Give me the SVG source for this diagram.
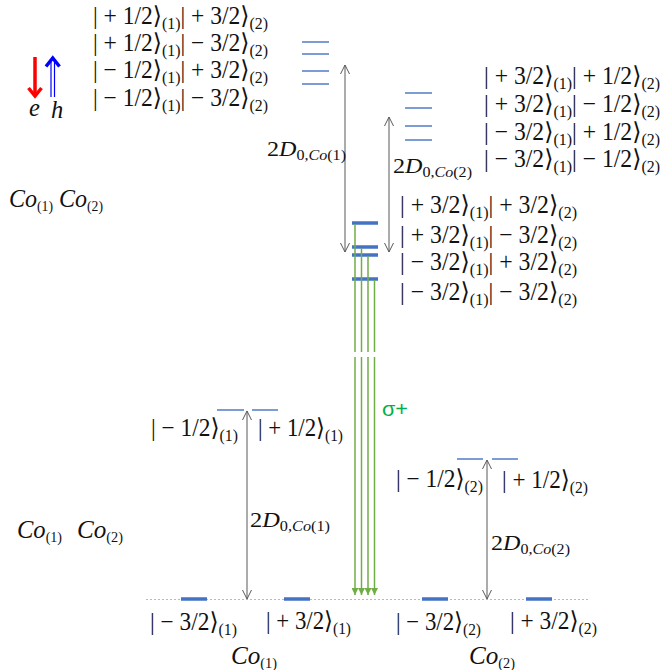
<svg xmlns="http://www.w3.org/2000/svg" width="663" height="670" viewBox="0 0 663 670">
<style>
.k{font-family:"Liberation Serif","DejaVu Serif",serif;font-size:24.5px;fill:#111}
.s{font-size:16.5px}
.i{font-style:italic}
.lab{font-family:"Liberation Serif","DejaVu Serif",serif;font-size:21px;fill:#111}
.ls{font-size:14px}
.thin{stroke:#4472c4;stroke-width:1.4;fill:none}
.thick{stroke:#4472c4;stroke-width:3.5;fill:none}
.gl{stroke:#70ad47;stroke-width:1.5;fill:none}
.ga{stroke:#595959;stroke-width:1;fill:none}
</style>
<defs>
<marker id="ah" viewBox="0 0 10 10" refX="10" refY="5" markerWidth="10" markerHeight="10" markerUnits="userSpaceOnUse" orient="auto-start-reverse">
<path d="M1,0.5 L10,5 L1,9.5" fill="none" stroke="#595959" stroke-width="1"/>
</marker>
<marker id="gh" viewBox="0 0 10 10" refX="10" refY="5" markerWidth="7" markerHeight="7" markerUnits="userSpaceOnUse" orient="auto">
<path d="M0,0 L10,5 L0,10 Z" fill="#70ad47"/>
</marker>
</defs>
<rect width="663" height="670" fill="#fff"/>

<g id="legend-eh">
<line x1="35" y1="57" x2="35" y2="94" stroke="#ff0000" stroke-width="3.5"/>
<polyline points="28.5,88 35,96 41.5,88" fill="none" stroke="#ff0000" stroke-width="3.5"/>
<line x1="51" y1="61" x2="51" y2="97" stroke="#0000ff" stroke-width="1.2"/>
<line x1="54.5" y1="61" x2="54.5" y2="97" stroke="#0000ff" stroke-width="1.2"/>
<polyline points="46,66.5 52.75,58 59.5,66.5" fill="none" stroke="#0000ff" stroke-width="3.5"/>
<text class="k i" x="29" y="116" font-size="20">e</text>
<text class="k i" x="51" y="118" font-size="20">h</text>
</g>

<g id="co-top-left">
<text class="k" x="9" y="207" font-size="19" textLength="94" lengthAdjust="spacingAndGlyphs"><tspan class="i">Co</tspan><tspan font-size="14" dy="4">(1)</tspan><tspan dy="-4"> </tspan><tspan class="i">Co</tspan><tspan font-size="14" dy="4">(2)</tspan></text>
</g>
<g id="co-bottom-left">
<text class="k" x="17" y="538" font-size="19" textLength="45" lengthAdjust="spacingAndGlyphs"><tspan class="i">Co</tspan><tspan font-size="14" dy="4">(1)</tspan></text>
<text class="k" x="77" y="538" font-size="19" textLength="46" lengthAdjust="spacingAndGlyphs"><tspan class="i">Co</tspan><tspan font-size="14" dy="4">(2)</tspan></text>
</g>

<g id="states-12-32">
<line class="thin" x1="302" y1="42" x2="329" y2="42"/>
<line class="thin" x1="302" y1="54" x2="329" y2="54"/>
<line class="thin" x1="302" y1="71" x2="329" y2="71"/>
<line class="thin" x1="302" y1="84" x2="329" y2="84"/>
<text class="k" x="93" y="24" textLength="175" lengthAdjust="spacingAndGlyphs">| + 1/2⟩<tspan class="s" dy="5">(1)</tspan><tspan dy="-5">| + 3/2⟩</tspan><tspan class="s" dy="5">(2)</tspan></text>
<text class="k" x="93" y="51" textLength="175" lengthAdjust="spacingAndGlyphs">| + 1/2⟩<tspan class="s" dy="5">(1)</tspan><tspan dy="-5">| − 3/2⟩</tspan><tspan class="s" dy="5">(2)</tspan></text>
<text class="k" x="93" y="78" textLength="175" lengthAdjust="spacingAndGlyphs">| − 1/2⟩<tspan class="s" dy="5">(1)</tspan><tspan dy="-5">| + 3/2⟩</tspan><tspan class="s" dy="5">(2)</tspan></text>
<text class="k" x="93" y="106" textLength="175" lengthAdjust="spacingAndGlyphs">| − 1/2⟩<tspan class="s" dy="5">(1)</tspan><tspan dy="-5">| − 3/2⟩</tspan><tspan class="s" dy="5">(2)</tspan></text>
</g>

<g id="states-32-12">
<line class="thin" x1="405" y1="93" x2="432" y2="93"/>
<line class="thin" x1="405" y1="108" x2="432" y2="108"/>
<line class="thin" x1="405" y1="126" x2="432" y2="126"/>
<line class="thin" x1="405" y1="140" x2="432" y2="140"/>
<text class="k" x="484" y="84" textLength="176" lengthAdjust="spacingAndGlyphs">| + 3/2⟩<tspan class="s" dy="5">(1)</tspan><tspan dy="-5">| + 1/2⟩</tspan><tspan class="s" dy="5">(2)</tspan></text>
<text class="k" x="484" y="112" textLength="176" lengthAdjust="spacingAndGlyphs">| + 3/2⟩<tspan class="s" dy="5">(1)</tspan><tspan dy="-5">| − 1/2⟩</tspan><tspan class="s" dy="5">(2)</tspan></text>
<text class="k" x="484" y="140" textLength="176" lengthAdjust="spacingAndGlyphs">| − 3/2⟩<tspan class="s" dy="5">(1)</tspan><tspan dy="-5">| + 1/2⟩</tspan><tspan class="s" dy="5">(2)</tspan></text>
<text class="k" x="484" y="167" textLength="176" lengthAdjust="spacingAndGlyphs">| − 3/2⟩<tspan class="s" dy="5">(1)</tspan><tspan dy="-5">| − 1/2⟩</tspan><tspan class="s" dy="5">(2)</tspan></text>
</g>

<g id="states-32-32">
<line class="thick" x1="352" y1="223" x2="378" y2="223"/>
<line class="thick" x1="352" y1="247" x2="378" y2="247"/>
<line class="thick" x1="352" y1="255" x2="378" y2="255"/>
<line class="thick" x1="352" y1="279" x2="378" y2="279"/>
<text class="k" x="400" y="213" textLength="177" lengthAdjust="spacingAndGlyphs">| + 3/2⟩<tspan class="s" dy="5">(1)</tspan><tspan dy="-5">| + 3/2⟩</tspan><tspan class="s" dy="5">(2)</tspan></text>
<text class="k" x="400" y="243" textLength="177" lengthAdjust="spacingAndGlyphs">| + 3/2⟩<tspan class="s" dy="5">(1)</tspan><tspan dy="-5">| − 3/2⟩</tspan><tspan class="s" dy="5">(2)</tspan></text>
<text class="k" x="400" y="270" textLength="177" lengthAdjust="spacingAndGlyphs">| − 3/2⟩<tspan class="s" dy="5">(1)</tspan><tspan dy="-5">| + 3/2⟩</tspan><tspan class="s" dy="5">(2)</tspan></text>
<text class="k" x="400" y="300" textLength="177" lengthAdjust="spacingAndGlyphs">| − 3/2⟩<tspan class="s" dy="5">(1)</tspan><tspan dy="-5">| − 3/2⟩</tspan><tspan class="s" dy="5">(2)</tspan></text>
</g>

<g id="co1-excited">
<line class="thin" x1="217" y1="410" x2="244" y2="410"/>
<line class="thin" x1="252" y1="410" x2="278" y2="410"/>
<text class="k" x="151" y="436" textLength="87" lengthAdjust="spacingAndGlyphs">| − 1/2⟩<tspan class="s" dy="5">(1)</tspan></text>
<text class="k" x="258" y="436" textLength="85" lengthAdjust="spacingAndGlyphs">| + 1/2⟩<tspan class="s" dy="5">(1)</tspan></text>
</g>

<g id="co2-excited">
<line class="thin" x1="457" y1="459" x2="483" y2="459"/>
<line class="thin" x1="492" y1="459" x2="518" y2="459"/>
<text class="k" x="396" y="487" textLength="87" lengthAdjust="spacingAndGlyphs">| − 1/2⟩<tspan class="s" dy="5">(2)</tspan></text>
<text class="k" x="502" y="488" textLength="86" lengthAdjust="spacingAndGlyphs">| + 1/2⟩<tspan class="s" dy="5">(2)</tspan></text>
</g>

<g id="ground">
<line x1="146" y1="599.5" x2="590" y2="599.5" stroke="#8faadc" stroke-width="0.8" stroke-dasharray="2,2"/>
<line class="thick" x1="181" y1="599" x2="207" y2="599"/>
<line class="thick" x1="284" y1="599" x2="310" y2="599"/>
<line class="thick" x1="422" y1="599" x2="448" y2="599"/>
<line class="thick" x1="526" y1="599" x2="552" y2="599"/>
<text class="k" x="150" y="630" textLength="87" lengthAdjust="spacingAndGlyphs">| − 3/2⟩<tspan class="s" dy="5">(1)</tspan></text>
<text class="k" x="266" y="629" textLength="85" lengthAdjust="spacingAndGlyphs">| + 3/2⟩<tspan class="s" dy="5">(1)</tspan></text>
<text class="k" x="396" y="630" textLength="85" lengthAdjust="spacingAndGlyphs">| − 3/2⟩<tspan class="s" dy="5">(2)</tspan></text>
<text class="k" x="510" y="629" textLength="87" lengthAdjust="spacingAndGlyphs">| + 3/2⟩<tspan class="s" dy="5">(2)</tspan></text>
<text class="k" x="231" y="664" font-size="19" textLength="46" lengthAdjust="spacingAndGlyphs"><tspan class="i">Co</tspan><tspan font-size="14" dy="4">(1)</tspan></text>
<text class="k" x="469" y="664" font-size="19" textLength="46" lengthAdjust="spacingAndGlyphs"><tspan class="i">Co</tspan><tspan font-size="14" dy="4">(2)</tspan></text>
</g>

<g id="connectors">
<line class="ga" x1="345" y1="65" x2="345" y2="252" marker-start="url(#ah)" marker-end="url(#ah)"/>
<line class="ga" x1="389" y1="117" x2="389" y2="252" marker-start="url(#ah)" marker-end="url(#ah)"/>
<line class="ga" x1="247" y1="411" x2="247" y2="599" marker-start="url(#ah)" marker-end="url(#ah)"/>
<line class="ga" x1="487" y1="460" x2="487" y2="599" marker-start="url(#ah)" marker-end="url(#ah)"/>
<line class="gl" x1="355" y1="224" x2="355" y2="352"/>
<line class="gl" x1="361.5" y1="248" x2="361.5" y2="352"/>
<line class="gl" x1="368" y1="256" x2="368" y2="352"/>
<line class="gl" x1="374.5" y1="280" x2="374.5" y2="352"/>
<line class="gl" x1="355" y1="357" x2="355" y2="595" marker-end="url(#gh)"/>
<line class="gl" x1="361.5" y1="357" x2="361.5" y2="595" marker-end="url(#gh)"/>
<line class="gl" x1="368" y1="357" x2="368" y2="595" marker-end="url(#gh)"/>
<line class="gl" x1="374.5" y1="357" x2="374.5" y2="595" marker-end="url(#gh)"/>
</g>

<g id="labels">
<text class="lab" x="267" y="156" textLength="79" lengthAdjust="spacingAndGlyphs">2<tspan class="i">D</tspan><tspan class="ls" dy="4">0,<tspan class="i">Co</tspan>(1)</tspan></text>
<text class="lab" x="393" y="173" textLength="79" lengthAdjust="spacingAndGlyphs">2<tspan class="i">D</tspan><tspan class="ls" dy="4">0,<tspan class="i">Co</tspan>(2)</tspan></text>
<text class="lab" x="250" y="527" textLength="80" lengthAdjust="spacingAndGlyphs">2<tspan class="i">D</tspan><tspan class="ls" dy="4">0,<tspan class="i">Co</tspan>(1)</tspan></text>
<text class="lab" x="491" y="550" textLength="79" lengthAdjust="spacingAndGlyphs">2<tspan class="i">D</tspan><tspan class="ls" dy="4">0,<tspan class="i">Co</tspan>(2)</tspan></text>
<text x="382" y="416" font-family="'Liberation Sans','DejaVu Sans',sans-serif" font-size="20" textLength="26" lengthAdjust="spacingAndGlyphs" fill="#00b050">σ+</text>
</g>
</svg>
